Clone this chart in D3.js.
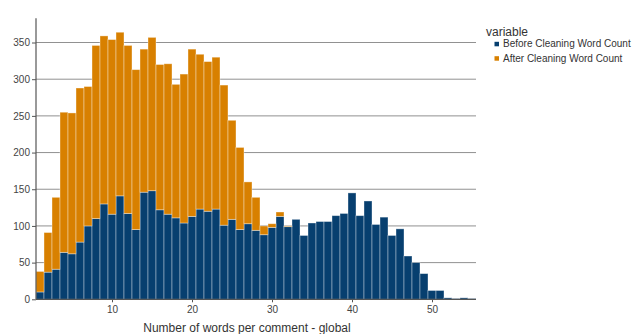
<!DOCTYPE html>
<html>
<head>
<meta charset="utf-8">
<script src="https://cdn.jsdelivr.net/npm/d3@7"></script>
<style>
  html, body { margin: 0; padding: 0; background: #fff; }
  svg { display: block; font-family: "Liberation Sans", Arial, sans-serif; }
</style>
</head>
<body>
<svg id="chart" width="642" height="334"></svg>
<script>
// Word counts (x values)
const wordCounts = d3.range(1, 56);
// Series: number of comments per word count
const beforeCleaning = [10, 37, 41, 64, 62, 78, 100, 110, 130, 116,
                        141, 117, 95, 146, 148, 122, 116, 111, 104, 113,
                        123, 120, 123, 101, 109, 95, 103, 94, 88, 98,
                        113, 99, 109, 87, 104, 106, 106, 114, 117, 145,
                        114, 134, 102, 112, 87, 96, 59, 50, 35, 12,
                        12, 2, 1, 2, 1];
const afterCleaning  = [28, 54, 98, 191, 192, 210, 190, 236, 229, 238,
                        223, 229, 218, 195, 209, 198, 205, 182, 203, 228,
                        211, 204, 207, 191, 135, 112, 57, 45, 12, 5,
                        6, 1, 0, 0, 0, 0, 0, 0, 0, 0,
                        0, 0, 0, 0, 0, 0, 0, 0, 0, 0,
                        0, 0, 0, 0, 0];
const seriesNames = ["Before Cleaning Word Count", "After Cleaning Word Count"];
const seriesColors = ["#073f6f", "#d88000"];
const xTicks = [10, 20, 30, 40, 50];
const yTicks = [0, 50, 100, 150, 200, 250, 300, 350];
const xTitle = "Number of words per comment - global";
const legendTitle = "variable";

(function () {
const svg = d3.select("#chart");
const pL = 36, pR = 476, pT = 18.3, pB = 299.3;

const x = d3.scaleLinear().domain([0.5, 55.5]).range([pL, pR]);
const y = d3.scaleLinear().domain([0, 383]).range([pB, pT]);

const rows = wordCounts.map((w, i) => ({ w, before: beforeCleaning[i], after: afterCleaning[i] }));
const stacked = d3.stack().keys(["before", "after"])(rows);

// gridlines
svg.append("g").selectAll("line").data(yTicks.filter(d => d > 0)).join("line")
  .attr("x1", pL).attr("x2", pR)
  .attr("y1", d => y(d)).attr("y2", d => y(d))
  .attr("stroke", "#919191").attr("stroke-width", 1);

// bars
svg.append("g").selectAll("g").data(stacked).join("g")
  .attr("fill", (d, i) => seriesColors[i])
  .selectAll("rect").data(d => d.filter(s => s[1] - s[0] > 0)).join("rect")
  .attr("x", d => x(d.data.w - 0.5))
  .attr("width", d => x(d.data.w + 0.5) - x(d.data.w - 0.5))
  .attr("y", d => y(d[1]))
  .attr("height", d => y(d[0]) - y(d[1]))
  .attr("stroke", "rgba(255,255,255,0.45)")
  .attr("stroke-width", 0.8);

// axes
const yAxis = svg.append("g").attr("transform", `translate(${pL},0)`)
  .call(d3.axisLeft(y).tickValues(yTicks).tickSize(4).tickPadding(2));
yAxis.select(".domain").attr("d", `M0,${pT}V${pB}`);
const xAxis = svg.append("g").attr("transform", `translate(0,${pB})`)
  .call(d3.axisBottom(x).tickValues(xTicks).tickSize(3).tickPadding(4));
xAxis.select(".domain").attr("d", `M${pL},0H${pR}`);
[yAxis, xAxis].forEach(a => {
  a.select(".domain").attr("stroke", "#555").attr("stroke-width", 1.2);
  a.selectAll(".tick line").attr("stroke", "#555");
  a.selectAll(".tick text").attr("fill", "#444").attr("font-size", 10)
    .attr("font-family", "Liberation Sans, Arial, sans-serif");
});

// x title
svg.append("text").attr("x", 247).attr("y", 332)
  .attr("text-anchor", "middle").attr("font-size", 12).attr("fill", "#333")
  .text(xTitle);

// legend
const lg = svg.append("g");
lg.append("text").attr("x", 486).attr("y", 36).attr("font-size", 12).attr("fill", "#333").text(legendTitle);
seriesNames.forEach((name, i) => {
  const by = 47.3 + i * 14.4;
  lg.append("rect").attr("x", 494.5).attr("y", by - 5.5).attr("width", 4.5).attr("height", 4.5)
    .attr("fill", seriesColors[i]);
  lg.append("text").attr("x", 503).attr("y", by).attr("font-size", 10).attr("fill", "#333").text(name);
});
})();
</script>
</body>
</html>
